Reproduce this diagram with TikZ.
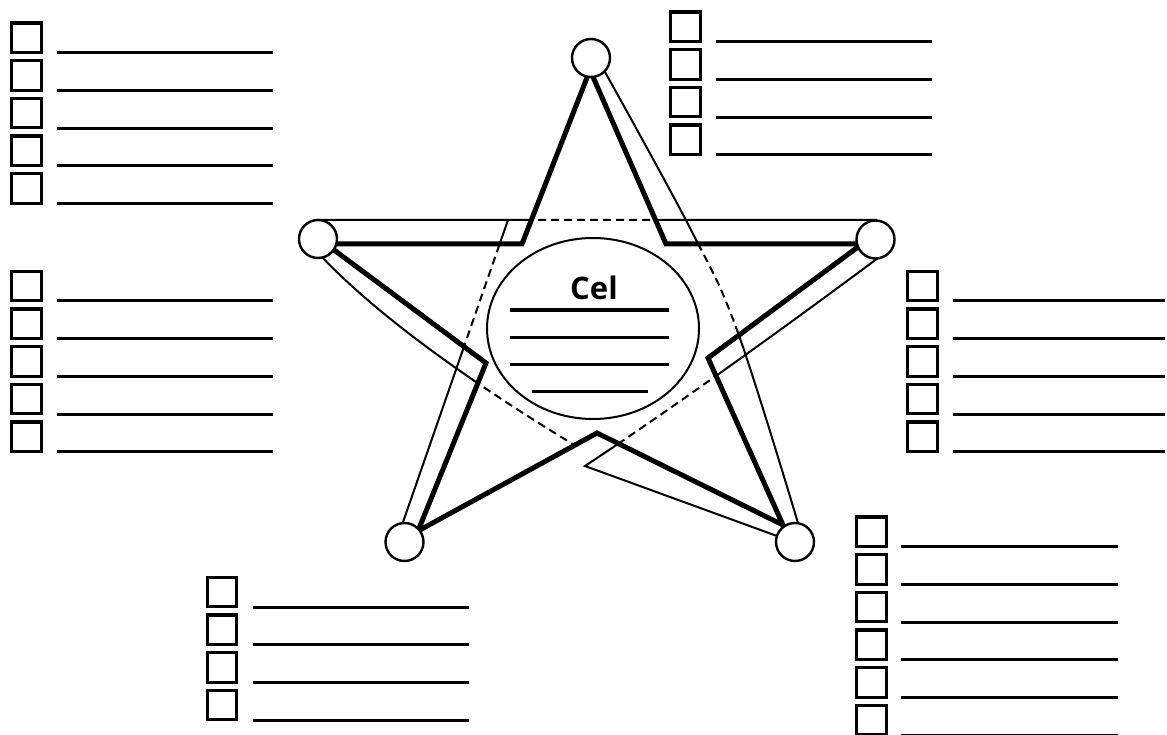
\documentclass[tikz,border=0pt]{standalone}
\usepackage{fontspec}
\setmainfont{Open Sans}
\usetikzlibrary{shapes.geometric}
\tikzset{
  chk/.style={draw, line width=3.2pt, minimum size=29.5pt, inner sep=0pt},
  formline/.style={line width=3pt},
  thickstar/.style={line width=5pt, line join=miter},
  thinline/.style={line width=2pt},
  hidden/.style={thinline, dash pattern=on 8pt off 5pt},
  vertex/.style={circle, draw, fill=white, line width=2.4pt, minimum size=38pt, inner sep=0pt},
  goalshape/.style={ellipse, draw, fill=white, line width=2pt, minimum width=212pt, minimum height=181pt, inner sep=0pt},
}
\def\starpoly{(590,70) -- (666,244) -- (862,244) -- (708,358) -- (783,525) -- (597,433) -- (418,531) -- (486,363) -- (326,244) -- (522,244) -- cycle}
\def\thinpaths{(317,220) -- (877,220)
  (508,220) -- (402,525)
  (322,257) .. controls (380,318) and (475,385) .. (576,446)
  (878,258) .. controls (835,290) and (700,390) .. (585,466) -- (777,536)
  plot[smooth, tension=0.6] coordinates {(605,72) (690,228) (737,330) (798,523)}}
\newcommand\checklist[6]{%
  \foreach \i in {1,...,#4}{%
    \pgfmathsetmacro\ly{#3+(\i-1)*37.7}
    \node[chk] (#1\i) at (#2,\ly-15) {};
    \draw[formline] (#5,\ly) coordinate (#1l\i) -- (#6,\ly) coordinate (#1r\i);
  }}
\begin{document}
\begin{tikzpicture}[x=1pt,y=-1pt]
\useasboundingbox (0,0) rectangle (1167,735);
\clip (0,0) rectangle (1167,735);
% back (thin) star
\draw[thinline] \thinpaths;
\begin{scope}
  \clip \starpoly;
  \fill[white] \starpoly;
  \draw[hidden] \thinpaths;
\end{scope}
% front (thick) star
\draw[thickstar] \starpoly;
% goal ellipse
\node[goalshape] (goal) at (593,328.5) {};
\node[font=\bfseries\fontsize{31}{33}\selectfont, anchor=base, inner sep=0pt] (goaltitle) at (594,300) {Cel};
\draw[formline] (510,310) -- (669,310);
\draw[formline] (510,337) -- (669,337);
\draw[formline] (510,364) -- (669,364);
\draw[formline] (532,391) -- (648,391);
% vertex circles
\node[vertex] (vtop) at (591,58) {};
\node[vertex] (vleft) at (318,239) {};
\node[vertex] (vright) at (875.5,239.5) {};
\node[vertex] (vbl) at (404.5,542) {};
\node[vertex] (vbr) at (795,542) {};
% checklists
\checklist{tl}{26.5}{52.7}{5}{57}{273}
\checklist{ml}{26.5}{301}{5}{57}{273}
\checklist{tr}{685.5}{41.7}{4}{716}{932}
\checklist{rr}{922.5}{301}{5}{953}{1165}
\checklist{br}{871.5}{546.7}{6}{901}{1118}
\checklist{bb}{222}{607}{4}{253}{469}
\end{tikzpicture}
\end{document}
